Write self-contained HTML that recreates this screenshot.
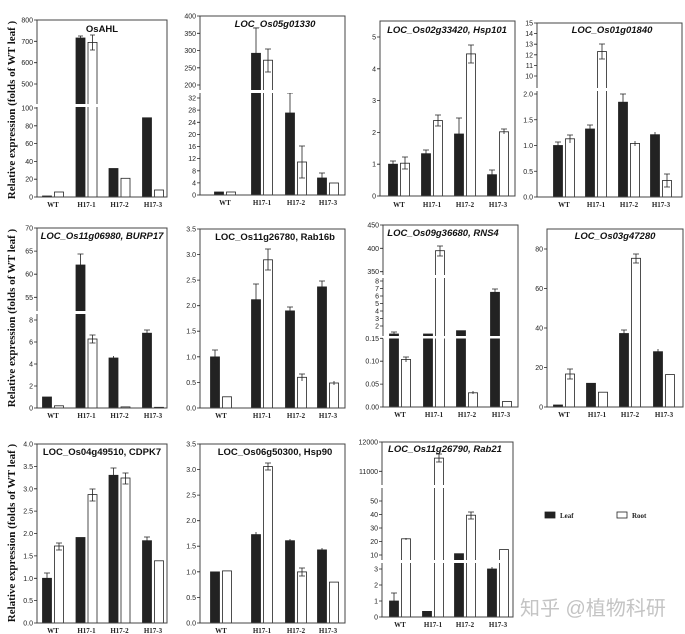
<!DOCTYPE html>
<html><head><meta charset="utf-8"><style>
html,body{margin:0;padding:0;background:#fff;}
svg{display:block;}
.t{font-family:"Liberation Sans",sans-serif;font-size:7px;fill:#222;text-anchor:end;}
.x{font-family:"Liberation Serif",serif;font-size:7px;font-weight:bold;fill:#222;text-anchor:middle;}
.ti{font-family:"Liberation Sans",sans-serif;font-size:9.5px;font-weight:bold;fill:#111;text-anchor:middle;}
.it{font-style:italic;}
.fr{fill:none;stroke:#444;stroke-width:1;}
.L{fill:#222;stroke:#222;stroke-width:.8;}
.R{fill:#fff;stroke:#222;stroke-width:.8;}
.e{stroke:#222;stroke-width:.8;fill:none;}
.yl{font-family:"Liberation Serif",serif;font-size:11px;font-weight:bold;fill:#111;text-anchor:middle;}
</style></head><body>
<svg width="685" height="634" viewBox="0 0 685 634" xmlns="http://www.w3.org/2000/svg">
<text class="yl" transform="translate(15,110) rotate(-90)">Relative expression (folds of WT leaf )</text>
<text class="yl" transform="translate(15,318) rotate(-90)">Relative expression (folds of WT leaf )</text>
<text class="yl" transform="translate(15,533) rotate(-90)">Relative expression (folds of WT leaf )</text>

<!-- P1 -->
<g transform="translate(37,20)">
<rect class="L" x="5.5" y="176" width="9" height="1"/><rect class="R" x="17.5" y="172" width="9" height="5"/>
<rect class="L" x="39" y="18" width="9" height="159"/><rect class="R" x="51" y="22.4" width="9" height="154.6"/>
<rect class="L" x="72" y="148.5" width="9" height="28.5"/><rect class="R" x="84" y="158.3" width="9" height="18.7"/>
<rect class="L" x="105.5" y="97.8" width="9" height="79.2"/><rect class="R" x="117.5" y="170" width="9" height="7"/>
<path class="e" d="M55.5 15V30M53 15H58M53 30H58M43.5 16V20M41 16H46"/>
<rect x="-2" y="84" width="128" height="3" fill="#fff"/>
<rect class="fr" x="0" y="0" width="130" height="177"/>
<rect x="-2" y="84" width="3" height="3" fill="#fff"/>
<path class="e" d="M-3 0H0M-3 21.3H0M-3 42.7H0M-3 64H0M-3 88H0M-3 105.8H0M-3 123.6H0M-3 141.4H0M-3 159.2H0M-3 177H0"/>
<text class="t" x="-4" y="2.5">800</text><text class="t" x="-4" y="23.8">700</text><text class="t" x="-4" y="45.2">600</text><text class="t" x="-4" y="66.5">500</text><text class="t" x="-4" y="90.5">100</text><text class="t" x="-4" y="108.3">80</text><text class="t" x="-4" y="126.1">60</text><text class="t" x="-4" y="143.9">40</text><text class="t" x="-4" y="161.7">20</text><text class="t" x="-4" y="179.5">0</text>
<text class="ti" x="65" y="12">OsAHL</text>
<text class="x" x="16" y="187">WT</text><text class="x" x="49.5" y="187">H17-1</text><text class="x" x="82.5" y="187">H17-2</text><text class="x" x="116" y="187">H17-3</text>
</g>

<!-- P2 -->
<g transform="translate(200,16)">
<rect class="L" x="14.5" y="176" width="9" height="3"/><rect class="R" x="26.5" y="176" width="9" height="3"/>
<rect class="L" x="51.5" y="37.3" width="9" height="141.7"/><rect class="R" x="63.5" y="44.2" width="9" height="134.8"/>
<rect class="L" x="85.5" y="97" width="9" height="82"/><rect class="R" x="97.5" y="146" width="9" height="33"/>
<rect class="L" x="117.5" y="162" width="9" height="17"/><rect class="R" x="129.5" y="167" width="9" height="12"/>
<path class="e" d="M56 12V62M53 12H59M53 62H59M68 33V56M65 33H71M65 56H71M90 77V118M87 77H93M87 118H93M102 130V162M99 130H105M99 162H105M122 157V168M119 157H125"/>
<rect x="-2" y="74" width="142" height="3" fill="#fff"/>
<rect class="fr" x="0" y="0" width="145" height="179"/>
<rect x="-2" y="74" width="3" height="3" fill="#fff"/>
<path class="e" d="M-3 0H0M-3 17.3H0M-3 34.5H0M-3 51.8H0M-3 69H0M-3 82H0M-3 94.1H0M-3 106.3H0M-3 118.4H0M-3 130.5H0M-3 142.6H0M-3 154.8H0M-3 166.9H0M-3 179H0"/>
<text class="t" x="-4" y="2.5">400</text><text class="t" x="-4" y="19.8">350</text><text class="t" x="-4" y="37">300</text><text class="t" x="-4" y="54.3">250</text><text class="t" x="-4" y="71.5">200</text><text class="t" x="-4" y="84.5">32</text><text class="t" x="-4" y="96.6">28</text><text class="t" x="-4" y="108.8">24</text><text class="t" x="-4" y="120.9">20</text><text class="t" x="-4" y="133">16</text><text class="t" x="-4" y="145.1">12</text><text class="t" x="-4" y="157.3">8</text><text class="t" x="-4" y="169.4">4</text><text class="t" x="-4" y="181.5">0</text>
<text class="ti it" x="75" y="11">LOC_Os05g01330</text>
<text class="x" x="25" y="189">WT</text><text class="x" x="62" y="189">H17-1</text><text class="x" x="96" y="189">H17-2</text><text class="x" x="128" y="189">H17-3</text>
</g>

<!-- P3 -->
<g transform="translate(380,21)">
<rect class="L" x="8.5" y="143.2" width="9" height="31.8"/><rect class="R" x="20.5" y="142.2" width="9" height="32.8"/>
<rect class="L" x="41.5" y="132.7" width="9" height="42.3"/><rect class="R" x="53.5" y="99.6" width="9" height="75.4"/>
<rect class="L" x="74.5" y="113" width="9" height="62"/><rect class="R" x="86.5" y="32.9" width="9" height="142.1"/>
<rect class="L" x="107.5" y="153.7" width="9" height="21.3"/><rect class="R" x="119.5" y="110.8" width="9" height="64.2"/>
<path class="e" d="M13 140V146M10 140H16M25 136V148M22 136H28M22 148H28M46 129V136M43 129H49M58 94V105M55 94H61M55 105H61M79 97V129M76 97H82M76 129H82M91 24V42M88 24H94M88 42H94M112 149V158M109 149H115M124 108V113M121 108H127"/>
<rect class="fr" x="0" y="0" width="135" height="175"/>
<path class="e" d="M-3 16H0M-3 47.8H0M-3 79.6H0M-3 111.4H0M-3 143.2H0M-3 175H0"/>
<text class="t" x="-4" y="18.5">5</text><text class="t" x="-4" y="50.3">4</text><text class="t" x="-4" y="82.1">3</text><text class="t" x="-4" y="113.9">2</text><text class="t" x="-4" y="145.7">1</text><text class="t" x="-4" y="177.5">0</text>
<text class="ti it" x="67" y="12">LOC_Os02g33420, Hsp101</text>
<text class="x" x="19" y="186">WT</text><text class="x" x="52" y="186">H17-1</text><text class="x" x="85" y="186">H17-2</text><text class="x" x="118" y="186">H17-3</text>
</g>

<!-- P4 -->
<g transform="translate(537,23)">
<rect class="L" x="16.5" y="122.5" width="9" height="51.5"/><rect class="R" x="28.5" y="115.8" width="9" height="58.2"/>
<rect class="L" x="48.5" y="106" width="9" height="68"/><rect class="R" x="60.5" y="28.6" width="9" height="145.4"/>
<rect class="L" x="81.5" y="79.2" width="9" height="94.8"/><rect class="R" x="93.5" y="120.4" width="9" height="53.6"/>
<rect class="L" x="113.5" y="111.7" width="9" height="62.3"/><rect class="R" x="125.5" y="157.5" width="9" height="16.5"/>
<path class="e" d="M21 119V126M18 119H24M33 112V120M30 112H36M53 102V110M50 102H56M65 21V36M62 21H68M62 36H68M86 71V87M83 71H89M98 118V123M118 109V115M130 151V164M127 151H133M127 164H133"/>
<rect x="-2" y="65" width="142" height="3" fill="#fff"/>
<rect class="fr" x="0" y="0" width="145" height="174"/>
<rect x="-2" y="65" width="3" height="3" fill="#fff"/>
<path class="e" d="M-3 0H0M-3 10.6H0M-3 21.2H0M-3 31.8H0M-3 42.4H0M-3 53H0M-3 71H0M-3 96.75H0M-3 122.5H0M-3 148.25H0M-3 174H0"/>
<text class="t" x="-4" y="2.5">15</text><text class="t" x="-4" y="13.1">14</text><text class="t" x="-4" y="23.7">13</text><text class="t" x="-4" y="34.3">12</text><text class="t" x="-4" y="44.9">11</text><text class="t" x="-4" y="55.5">10</text><text class="t" x="-4" y="73.5">2.0</text><text class="t" x="-4" y="99.25">1.5</text><text class="t" x="-4" y="125">1.0</text><text class="t" x="-4" y="150.75">0.5</text><text class="t" x="-4" y="176.5">0.0</text>
<text class="ti it" x="75" y="10">LOC_Os01g01840</text>
<text class="x" x="27" y="184">WT</text><text class="x" x="59" y="184">H17-1</text><text class="x" x="92" y="184">H17-2</text><text class="x" x="124" y="184">H17-3</text>
</g>

<!-- P5 -->
<g transform="translate(37,228)">
<rect class="L" x="5.5" y="169" width="9" height="11"/><rect class="R" x="17.5" y="177.8" width="9" height="2.2"/>
<rect class="L" x="39" y="37" width="9" height="143"/><rect class="R" x="51" y="111" width="9" height="69"/>
<rect class="L" x="72" y="130" width="9" height="50"/><rect class="R" x="84" y="178.9" width="9" height="1.1"/>
<rect class="L" x="105.5" y="105.2" width="9" height="74.8"/><rect class="R" x="117.5" y="179.3" width="9" height=".7"/>
<path class="e" d="M43.5 26V49M40.5 26H46.5M40.5 49H46.5M55.5 107V115M52.5 107H58.5M52.5 115H58.5M110 102V108M107 102H113M76.5 128V132"/>
<rect x="-2" y="83" width="128" height="3" fill="#fff"/>
<rect class="fr" x="0" y="0" width="130" height="180"/>
<rect x="-2" y="83" width="3" height="3" fill="#fff"/>
<path class="e" d="M-3 0H0M-3 23.1H0M-3 46.2H0M-3 69.3H0M-3 92H0M-3 114H0M-3 136H0M-3 158H0M-3 180H0"/>
<text class="t" x="-4" y="2.5">70</text><text class="t" x="-4" y="25.6">65</text><text class="t" x="-4" y="48.7">60</text><text class="t" x="-4" y="71.8">55</text><text class="t" x="-4" y="94.5">8</text><text class="t" x="-4" y="116.5">6</text><text class="t" x="-4" y="138.5">4</text><text class="t" x="-4" y="160.5">2</text><text class="t" x="-4" y="182.5">0</text>
<text class="ti it" x="65" y="11">LOC_Os11g06980, BURP17</text>
<text class="x" x="16" y="190">WT</text><text class="x" x="49.5" y="190">H17-1</text><text class="x" x="82.5" y="190">H17-2</text><text class="x" x="116" y="190">H17-3</text>
</g>

<!-- P6 -->
<g transform="translate(200,229)">
<rect class="L" x="10.5" y="127.9" width="9" height="51.1"/><rect class="R" x="22.5" y="167.8" width="9" height="11.2"/>
<rect class="L" x="51.5" y="70.7" width="9" height="108.3"/><rect class="R" x="63.5" y="30.8" width="9" height="148.2"/>
<rect class="L" x="85.5" y="81.9" width="9" height="97.1"/><rect class="R" x="97.5" y="148.3" width="9" height="30.7"/>
<rect class="L" x="117.5" y="57.9" width="9" height="121.1"/><rect class="R" x="129.5" y="154" width="9" height="25"/>
<path class="e" d="M15 121V135M12 121H18M12 135H18M56 55V86M53 55H59M53 86H59M68 20V41M65 20H71M65 41H71M90 78V86M87 78H93M102 145V152M99 145H105M122 52V64M119 52H125M134 152V156"/>
<rect class="fr" x="0" y="0" width="145" height="179"/>
<path class="e" d="M-3 0H0M-3 25.6H0M-3 51.1H0M-3 76.7H0M-3 102.2H0M-3 127.8H0M-3 153.4H0M-3 179H0"/>
<text class="t" x="-4" y="2.5">3.5</text><text class="t" x="-4" y="28.1">3.0</text><text class="t" x="-4" y="53.6">2.5</text><text class="t" x="-4" y="79.2">2.0</text><text class="t" x="-4" y="104.7">1.5</text><text class="t" x="-4" y="130.3">1.0</text><text class="t" x="-4" y="155.9">0.5</text><text class="t" x="-4" y="181.5">0.0</text>
<text class="ti" x="75" y="11">LOC_Os11g26780, Rab16b</text>
<text class="x" x="21" y="189">WT</text><text class="x" x="62" y="189">H17-1</text><text class="x" x="96" y="189">H17-2</text><text class="x" x="128" y="189">H17-3</text>
</g>

<!-- P7 -->
<g transform="translate(383,225)">
<rect class="L" x="6.5" y="109" width="9" height="73"/><rect class="R" x="18.5" y="134.4" width="9" height="47.6"/>
<rect class="L" x="40.5" y="109" width="9" height="73"/><rect class="R" x="52.5" y="25.7" width="9" height="156.3"/>
<rect class="L" x="73.5" y="105.7" width="9" height="76.3"/><rect class="R" x="85.5" y="167.8" width="9" height="14.2"/>
<rect class="L" x="107.5" y="67.3" width="9" height="114.7"/><rect class="R" x="119.5" y="176.5" width="9" height="5.5"/>
<path class="e" d="M11 107V112M8 107H14M23 132V137M20 132H26M57 21V31M54 21H60M54 31H60M112 64V70M109 64H115M90 166V169"/>
<rect x="-2" y="50" width="131" height="3" fill="#fff"/>
<rect x="-2" y="111" width="131" height="2.5" fill="#fff"/>
<rect class="fr" x="0" y="0" width="135" height="182"/>
<rect x="-2" y="50" width="3" height="3" fill="#fff"/><rect x="-2" y="111" width="3" height="2.5" fill="#fff"/>
<path class="e" d="M-3 0H0M-3 23.3H0M-3 46.7H0M-3 56H0M-3 63.5H0M-3 71H0M-3 78.5H0M-3 86H0M-3 93.5H0M-3 101H0M-3 113.3H0M-3 136.2H0M-3 159.1H0M-3 182H0"/>
<text class="t" x="-4" y="2.5">450</text><text class="t" x="-4" y="25.8">400</text><text class="t" x="-4" y="49.2">350</text><text class="t" x="-4" y="58.5">8</text><text class="t" x="-4" y="66">7</text><text class="t" x="-4" y="73.5">6</text><text class="t" x="-4" y="81">5</text><text class="t" x="-4" y="88.5">4</text><text class="t" x="-4" y="96">3</text><text class="t" x="-4" y="103.5">2</text><text class="t" x="-4" y="115.8">0.15</text><text class="t" x="-4" y="138.7">0.10</text><text class="t" x="-4" y="161.6">0.05</text><text class="t" x="-4" y="184.5">0.00</text>
<text class="ti it" x="60" y="11">LOC_Os09g36680, RNS4</text>
<text class="x" x="17" y="192">WT</text><text class="x" x="51" y="192">H17-1</text><text class="x" x="84" y="192">H17-2</text><text class="x" x="118" y="192">H17-3</text>
</g>

<!-- P8 -->
<g transform="translate(547,229)">
<rect class="L" x="6.5" y="176" width="9" height="2"/><rect class="R" x="18.5" y="145" width="9" height="33"/>
<rect class="L" x="39.5" y="154.3" width="9" height="23.7"/><rect class="R" x="51.5" y="163.2" width="9" height="14.8"/>
<rect class="L" x="72.5" y="104.5" width="9" height="73.5"/><rect class="R" x="84.5" y="29.3" width="9" height="148.7"/>
<rect class="L" x="106.5" y="122.7" width="9" height="55.3"/><rect class="R" x="118.5" y="145.6" width="9" height="32.4"/>
<path class="e" d="M23 140V150M20 140H26M20 150H26M77 101V108M74 101H80M89 25V34M86 25H92M86 34H92M111 120V125"/>
<rect class="fr" x="0" y="0" width="136" height="178"/>
<path class="e" d="M-3 20H0M-3 59.5H0M-3 99H0M-3 138.5H0M-3 178H0"/>
<text class="t" x="-4" y="22.5">80</text><text class="t" x="-4" y="62">60</text><text class="t" x="-4" y="101.5">40</text><text class="t" x="-4" y="141">20</text><text class="t" x="-4" y="180.5">0</text>
<text class="ti it" x="68" y="10">LOC_Os03g47280</text>
<text class="x" x="17" y="188">WT</text><text class="x" x="50" y="188">H17-1</text><text class="x" x="83" y="188">H17-2</text><text class="x" x="117" y="188">H17-3</text>
</g>

<!-- P9 -->
<g transform="translate(37,444)">
<rect class="L" x="5.5" y="134.3" width="9" height="44.7"/><rect class="R" x="17.5" y="102" width="9" height="77"/>
<rect class="L" x="39" y="93.5" width="9" height="85.5"/><rect class="R" x="51" y="50.6" width="9" height="128.4"/>
<rect class="L" x="72" y="31.3" width="9" height="147.7"/><rect class="R" x="84" y="34" width="9" height="145"/>
<rect class="L" x="105.5" y="96.7" width="9" height="82.3"/><rect class="R" x="117.5" y="116.8" width="9" height="62.2"/>
<path class="e" d="M10 129V140M7 129H13M7 140H13M22 99V106M19 99H25M19 106H25M55.5 45V57M52.5 45H58.5M52.5 57H58.5M76.5 24V39M73.5 24H79.5M73.5 39H79.5M88.5 29V40M85.5 29H91.5M85.5 40H91.5M110 93V100M107 93H113"/>
<rect class="fr" x="0" y="0" width="130" height="179"/>
<path class="e" d="M-3 0H0M-3 22.4H0M-3 44.8H0M-3 67.1H0M-3 89.5H0M-3 111.9H0M-3 134.3H0M-3 156.6H0M-3 179H0"/>
<text class="t" x="-4" y="2.5">4.0</text><text class="t" x="-4" y="24.9">3.5</text><text class="t" x="-4" y="47.3">3.0</text><text class="t" x="-4" y="69.6">2.5</text><text class="t" x="-4" y="92">2.0</text><text class="t" x="-4" y="114.4">1.5</text><text class="t" x="-4" y="136.8">1.0</text><text class="t" x="-4" y="159.1">0.5</text><text class="t" x="-4" y="181.5">0.0</text>
<text class="ti" x="65" y="11">LOC_Os04g49510, CDPK7</text>
<text class="x" x="16" y="189">WT</text><text class="x" x="49.5" y="189">H17-1</text><text class="x" x="82.5" y="189">H17-2</text><text class="x" x="116" y="189">H17-3</text>
</g>

<!-- P10 -->
<g transform="translate(200,444)">
<rect class="L" x="10.5" y="127.9" width="9" height="51.1"/><rect class="R" x="22.5" y="126.9" width="9" height="52.1"/>
<rect class="L" x="51.5" y="90.6" width="9" height="88.4"/><rect class="R" x="63.5" y="22.6" width="9" height="156.4"/>
<rect class="L" x="85.5" y="96.7" width="9" height="82.3"/><rect class="R" x="97.5" y="127.9" width="9" height="51.1"/>
<rect class="L" x="117.5" y="105.9" width="9" height="73.1"/><rect class="R" x="129.5" y="138.1" width="9" height="40.9"/>
<path class="e" d="M68 19V26M65 19H71M65 26H71M56 88V93M102 124V132M99 124H105M99 132H105M90 95V99M122 104V108"/>
<rect class="fr" x="0" y="0" width="145" height="179"/>
<path class="e" d="M-3 0H0M-3 25.6H0M-3 51.1H0M-3 76.7H0M-3 102.2H0M-3 127.8H0M-3 153.4H0M-3 179H0"/>
<text class="t" x="-4" y="2.5">3.5</text><text class="t" x="-4" y="28.1">3.0</text><text class="t" x="-4" y="53.6">2.5</text><text class="t" x="-4" y="79.2">2.0</text><text class="t" x="-4" y="104.7">1.5</text><text class="t" x="-4" y="130.3">1.0</text><text class="t" x="-4" y="155.9">0.5</text><text class="t" x="-4" y="181.5">0.0</text>
<text class="ti" x="75" y="11">LOC_Os06g50300, Hsp90</text>
<text class="x" x="21" y="189">WT</text><text class="x" x="62" y="189">H17-1</text><text class="x" x="96" y="189">H17-2</text><text class="x" x="128" y="189">H17-3</text>
</g>

<!-- P11 -->
<g transform="translate(382,442)">
<rect class="L" x="7.5" y="159" width="9" height="16"/><rect class="R" x="19.5" y="96.8" width="9" height="78.2"/>
<rect class="L" x="40.5" y="169.4" width="9" height="5.6"/><rect class="R" x="52.5" y="16.1" width="9" height="158.9"/>
<rect class="L" x="72.5" y="111.7" width="9" height="63.3"/><rect class="R" x="84.5" y="73.2" width="9" height="101.8"/>
<rect class="L" x="105.5" y="127" width="9" height="48"/><rect class="R" x="117.5" y="107.6" width="9" height="67.4"/>
<path class="e" d="M12 151V167M9 151H15M57 12V20M54 12H60M54 20H60M89 70V77M86 70H92M86 77H92M24 96V98M110 125V129"/>
<rect x="-2" y="43" width="127" height="3" fill="#fff"/>
<rect x="-2" y="118" width="127" height="3" fill="#fff"/>
<rect class="fr" x="0" y="0" width="131" height="175"/>
<rect x="-2" y="43" width="3" height="3" fill="#fff"/><rect x="-2" y="118" width="3" height="3" fill="#fff"/>
<path class="e" d="M-3 0H0M-3 29.3H0M-3 59H0M-3 72.5H0M-3 86H0M-3 99.5H0M-3 113H0M-3 127H0M-3 143H0M-3 159H0M-3 175H0"/>
<text class="t" x="-4" y="2.5">12000</text><text class="t" x="-4" y="31.8">11000</text><text class="t" x="-4" y="61.5">50</text><text class="t" x="-4" y="75">40</text><text class="t" x="-4" y="88.5">30</text><text class="t" x="-4" y="102">20</text><text class="t" x="-4" y="115.5">10</text><text class="t" x="-4" y="129.5">3</text><text class="t" x="-4" y="145.5">2</text><text class="t" x="-4" y="161.5">1</text><text class="t" x="-4" y="177.5">0</text>
<text class="ti it" x="63" y="10">LOC_Os11g26790, Rab21</text>
<text class="x" x="18" y="185">WT</text><text class="x" x="51" y="185">H17-1</text><text class="x" x="83" y="185">H17-2</text><text class="x" x="116" y="185">H17-3</text>
</g>

<!-- Legend -->
<rect x="545" y="512" width="10" height="6" fill="#222" stroke="#222" stroke-width=".8"/>
<text x="560" y="518" style="font-family:'Liberation Serif',serif;font-size:7px;font-weight:bold;fill:#222">Leaf</text>
<rect x="617" y="512" width="10" height="6" fill="#fff" stroke="#222" stroke-width=".8"/>
<text x="632" y="518" style="font-family:'Liberation Serif',serif;font-size:7px;font-weight:bold;fill:#222">Root</text>
<text x="520" y="615" style="font-family:'Liberation Sans','Noto Sans CJK SC',sans-serif;font-size:20px;fill:#c4c4c4">知乎 @植物科研</text>
</svg>
</body></html>
